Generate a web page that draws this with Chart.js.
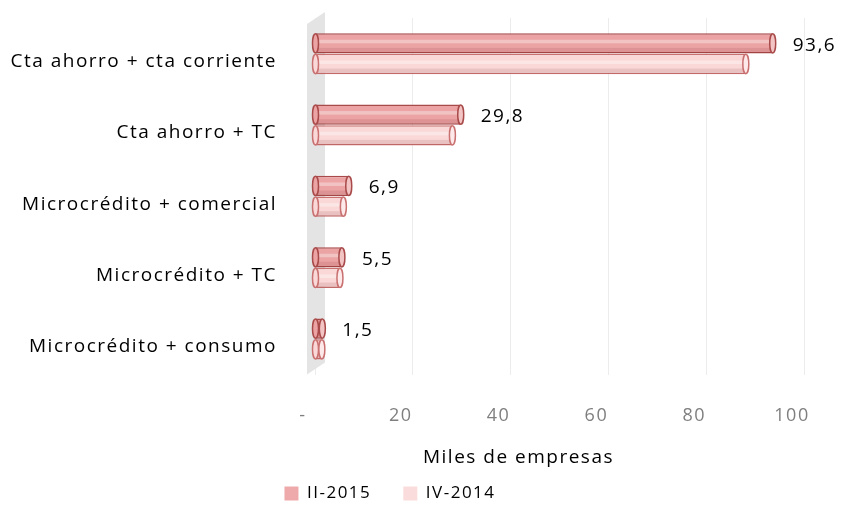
<!DOCTYPE html>
<html>
<head>
<meta charset="utf-8">
<script src="https://cdn.jsdelivr.net/npm/chart.js@4/dist/chart.umd.min.js"></script>
<style>
  html, body { margin: 0; padding: 0; background: #fff; }
  #wrap { width: 844px; height: 520px; }
</style>
</head>
<body>
<div id="wrap"><canvas id="chart" width="844" height="520"></canvas></div>
<script>
const categories = [
  "Cta ahorro + cta corriente",
  "Cta ahorro + TC",
  "Microcrédito + comercial",
  "Microcrédito + TC",
  "Microcrédito + consumo",
];
const serie2015 = [93.6, 29.8, 6.9, 5.5, 1.5];
const serie2014 = [88.1, 28.1, 5.8, 5.1, 1.4];
const xTicks = [0, 20, 40, 60, 80, 100];

const font = "'Open Sans', sans-serif";

// tube look: side wall, cylinder caps, value labels
const tubePlugin = {
  id: "tubes",
  beforeUpdate(chart) {
    chart.ctx.letterSpacing = "1.5px";
  },
  beforeDraw(chart) {
    chart.ctx.letterSpacing = "1.5px";
  },
  beforeDatasetsDraw(chart) {
    const { ctx, chartArea } = chart;
    const l = chartArea.left;
    ctx.save();
    ctx.fillStyle = "#e4e4e4";
    ctx.beginPath();
    ctx.moveTo(l - 8, chartArea.top + 6);
    ctx.lineTo(l + 10, chartArea.top - 6);
    ctx.lineTo(l + 10, chartArea.bottom - 12);
    ctx.lineTo(l - 8, chartArea.bottom);
    ctx.closePath();
    ctx.fill();
    ctx.restore();
  },
  afterDatasetsDraw(chart) {
    const { ctx } = chart;
    chart.data.datasets.forEach((ds, di) => {
      const meta = chart.getDatasetMeta(di);
      meta.data.forEach((bar, i) => {
        const p = bar.getProps(["x", "y", "base", "height"], true);
        const ry = p.height / 2;
        const rx = Math.max(3, ry * 0.28);
        ctx.save();
        ctx.fillStyle = "rgba(255,255,255,0.35)";
        ctx.fillRect(p.base, p.y - ry * 0.35, p.x - p.base, ry * 0.35);
        ctx.fillStyle = "rgba(120,30,30,0.12)";
        ctx.fillRect(p.base, p.y + ry * 0.45, p.x - p.base, ry * 0.5);
        ctx.lineWidth = 1.5;
        ctx.strokeStyle = ds.borderColor;
        ctx.beginPath();
        ctx.ellipse(p.base, p.y, rx, ry - 0.5, 0, 0, Math.PI * 2);
        ctx.fillStyle = ds.backgroundColor;
        ctx.fill();
        ctx.stroke();
        ctx.beginPath();
        ctx.ellipse(p.x, p.y, rx, ry - 0.5, 0, 0, Math.PI * 2);
        ctx.fillStyle = ds.capColor;
        ctx.fill();
        ctx.stroke();
        if (di === 0) {
          ctx.fillStyle = "#000";
          ctx.font = "19px " + font;
          ctx.textBaseline = "middle";
          ctx.textAlign = "left";
          const txt = ds.data[i].toFixed(1).replace(".", ",");
          ctx.fillText(txt, p.x + 20, p.y + 2);
        }
        ctx.restore();
      });
    });
  },
  afterLayout(chart) {
    const lg = chart.legend;
    if (lg) {
      lg.left -= 17;
      lg.right -= 17;
    }
  },
};

new Chart(document.getElementById("chart"), {
  type: "bar",
  data: {
    labels: categories,
    datasets: [
      {
        label: "II-2015",
        data: serie2015,
        backgroundColor: "#eba3a3",
        borderColor: "#a94a4a",
        capColor: "#f3c4c4",
        borderWidth: 1.5,
        borderSkipped: false,
        categoryPercentage: 0.58,
        barPercentage: 0.98,
      },
      {
        label: "IV-2014",
        data: serie2014,
        backgroundColor: "#fad8d8",
        borderColor: "#c97070",
        capColor: "#fde9e9",
        borderWidth: 1.5,
        borderSkipped: false,
        categoryPercentage: 0.58,
        barPercentage: 0.98,
      },
    ],
  },
  options: {
    indexAxis: "y",
    responsive: false,
    animation: false,
    layout: { padding: { top: 18, right: 40, left: 10, bottom: 8 } },
    plugins: {
      legend: {
        position: "bottom",
        labels: {
          boxWidth: 14,
          boxHeight: 14,
          padding: 12,
          color: "#000",
          font: { family: font, size: 17 },
          generateLabels: (chart) =>
            chart.data.datasets.map((ds, i) => ({
              text: i === 0 ? ds.label + "\u2002\u2002" : ds.label,
              fillStyle: i === 0 ? "#eeaaaa" : "#fbdcdc",
              strokeStyle: "rgba(0,0,0,0)",
              lineWidth: 0,
              fontColor: "#000",
              datasetIndex: i,
            })),
        },
      },
      tooltip: { enabled: false },
    },
    scales: {
      x: {
        min: 0,
        max: 100,
        afterBuildTicks: (scale) => {
          scale.ticks = xTicks.map((v) => ({ value: v }));
        },
        afterFit: (scale) => {
          scale.paddingLeft = 0;
          scale.paddingRight = 0;
        },
        ticks: {
          callback: (v) => (v === 0 ? "-" : v),
          color: "#7f7f7f",
          padding: 30,
          labelOffset: -12,
          font: { family: font, size: 18 },
        },
        grid: { color: "#ececec", drawTicks: false },
        border: { display: false },
        title: {
          display: true,
          text: "Miles de empresas\u2003\u2003\u2003\u2003",
          color: "#000",
          padding: { top: -10, bottom: 4 },
          font: { family: font, size: 19 },
        },
      },
      y: {
        afterFit: (scale) => {
          scale.width = 305;
          scale.paddingTop = 0;
          scale.paddingBottom = 0;
        },
        ticks: {
          color: "#000",
          padding: 30,
          labelOffset: 8,
          font: { family: font, size: 19 },
        },
        grid: { display: false },
        border: { display: false },
      },
    },
  },
  plugins: [tubePlugin],
});
</script>
</body>
</html>
